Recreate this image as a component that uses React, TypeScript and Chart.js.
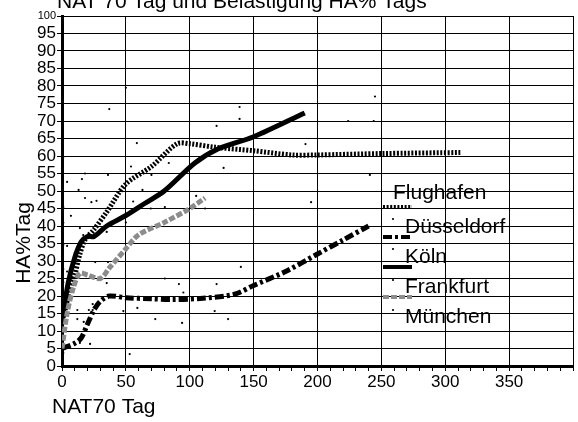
import React, { useEffect, useRef } from 'react';
import { Chart, registerables } from 'chart.js';
Chart.register(...registerables);

const FONT = '"Liberation Sans", Arial, Helvetica, sans-serif';

const titleText = 'NAT 70 Tag und Belastigung HA% Tags';
const xTitle = 'NAT70 Tag';
const yTitle = 'HA%Tag';

const seriesNames = ['Flughafen', 'Düsseldorf', 'Köln', 'Frankfurt', 'München'];

const flughafenX = [0, 5, 10, 14, 18, 25, 35, 50, 70, 90, 100, 120, 150, 180, 200, 250, 313];
const flughafenY = [12, 20, 26, 32, 36, 39, 44, 52, 57, 63.5, 63.5, 62.5, 61.5, 60.3, 60.3, 60.7, 61];

const duesseldorfX = [0, 10, 15, 20, 25, 30, 37, 50, 70, 85, 108, 135, 150, 175, 200, 220, 240];
const duesseldorfY = [5, 6.5, 8, 12, 16, 18.5, 20, 19.5, 19.2, 19, 19.3, 20.5, 23, 27, 32, 36, 40];

const koelnX = [0, 5, 10, 15, 20, 25, 35, 50, 65, 80, 104, 122, 150, 190];
const koelnY = [13, 24, 31, 35.5, 37, 37, 40, 43, 46.5, 50, 58, 62, 65.5, 72.3];

const frankfurtX = [0, 4, 9, 14, 20, 30, 37, 50, 60, 80, 100, 112];
const frankfurtY = [5, 15, 22.5, 26.5, 26, 25, 28, 33.5, 37.5, 41, 45, 48];

const dotsX = [37, 58.6, 54, 83.6, 70, 1, 4, 15.6, 18, 36, 13, 18, 23, 27, 1, 7, 63, 55.7, 69.5, 80.5, 1, 14, 16.6, 105, 112, 50, 35, 121, 139, 139, 126.5, 1, 4, 190.6, 224, 244, 241, 195, 245, 50, 10, 1, 4, 1, 26, 36, 24, 21, 24, 12, 12, 17, 14, 22, 53, 35, 48, 59, 73, 80.5, 91.5, 95, 94, 119.5, 121, 130, 140, 1];
const dotsY = [73.4, 63.7, 57, 58, 54.6, 59.7, 52.6, 53.4, 55, 54.6, 50.3, 48, 46.8, 47.2, 45.4, 42.9, 50.3, 47, 45, 45.4, 40.9, 39.4, 37.4, 48.6, 45, 41, 38.3, 68.6, 74, 70.6, 56.6, 34.6, 34.3, 63.4, 70, 70, 54.6, 46.8, 77, 79.5, 32.3, 27.7, 27, 24, 29.7, 29.7, 17.7, 16, 16, 16, 13.4, 12.6, 6.6, 6.3, 3.4, 23.7, 15.7, 16.6, 13.4, 25, 23.4, 21, 12.3, 15.7, 23.4, 13.4, 28.3, 3.7];

const xMin = 0;
const xMax = 400;
const xStep = 10;
const xLabelStep = 50;
const yMin = 0;
const yMax = 100;
const yStep = 5;

const GRAY = '#8c8c8c';

const zip = (xs: number[], ys: number[]) => xs.map((x, i) => ({ x, y: ys[i] }));

const lineStyles = [
  { color: '#000', dash: [2, 1.6], width: 5 },
  { color: '#000', dash: [9, 3, 3, 3], width: 5 },
  { color: '#000', dash: [] as number[], width: 5 },
  { color: GRAY, dash: [6, 2], width: 5 },
];

const decorPlugin = {
  id: 'decor',
  afterDraw(chart: any) {
    const ctx = chart.ctx as CanvasRenderingContext2D;
    ctx.save();
    ctx.fillStyle = '#000';
    ctx.font = `21px ${FONT}`;
    ctx.textBaseline = 'alphabetic';
    ctx.textAlign = 'left';
    ctx.fillText(titleText, 57, 7.5);
    ctx.fillText(xTitle, 52, 413);
    ctx.save();
    ctx.translate(30, 243);
    ctx.rotate(-Math.PI / 2);
    ctx.textAlign = 'center';
    ctx.fillText(yTitle, 0, 0);
    ctx.restore();

    const entries = [
      { name: seriesNames[0], tx: 393, ty: 193, dot: false, dy: 0, ly: 207, style: lineStyles[0] },
      { name: seriesNames[1], tx: 405, ty: 227, dot: true, dy: 219, ly: 237, style: lineStyles[1] },
      { name: seriesNames[2], tx: 405, ty: 257, dot: true, dy: 249, ly: 267, style: lineStyles[2] },
      { name: seriesNames[3], tx: 405, ty: 287, dot: true, dy: 280, ly: 297, style: lineStyles[3] },
      { name: seriesNames[4], tx: 405, ty: 317, dot: true, dy: 310, ly: -1, style: null as any },
    ];
    ctx.textBaseline = 'middle';
    ctx.textAlign = 'left';
    ctx.font = `21px ${FONT}`;
    for (const e of entries) {
      ctx.fillStyle = '#000';
      ctx.fillText(e.name, e.tx, e.ty);
      if (e.dot) {
        ctx.beginPath();
        ctx.arc(393, e.dy, 1.1, 0, Math.PI * 2);
        ctx.fill();
      }
      if (e.style && e.ly > 0) {
        ctx.beginPath();
        ctx.strokeStyle = e.style.color;
        ctx.lineWidth = 4;
        ctx.lineCap = 'butt';
        ctx.setLineDash(e.style.dash);
        ctx.moveTo(383, e.ly);
        ctx.lineTo(412, e.ly);
        ctx.stroke();
        ctx.setLineDash([]);
      }
    }
    ctx.restore();
  },
};

export default function App() {
  const ref = useRef<HTMLCanvasElement>(null);
  useEffect(() => {
    document.body.style.margin = '0';
    const canvas = ref.current!;
    const lineData = [
      zip(flughafenX, flughafenY),
      zip(duesseldorfX, duesseldorfY),
      zip(koelnX, koelnY),
      zip(frankfurtX, frankfurtY),
    ];
    const datasets: any[] = [
      {
        type: 'scatter',
        label: seriesNames[4],
        data: zip(dotsX, dotsY),
        pointRadius: 1.1,
        pointBackgroundColor: '#000',
        pointBorderWidth: 0,
        showLine: false,
        order: 5,
      },
      ...lineData.map((d, i) => ({
        type: 'line',
        label: seriesNames[i],
        data: d,
        borderColor: lineStyles[i].color,
        borderWidth: lineStyles[i].width,
        borderDash: lineStyles[i].dash,
        borderCapStyle: 'butt',
        pointRadius: 0,
        tension: 0.3,
        fill: false,
        order: 4 - i,
      })),
    ];
    const chart = new Chart(canvas, {
      type: 'line',
      data: { datasets },
      options: {
        animation: false,
        responsive: false,
        devicePixelRatio: 1,
        layout: { padding: { top: 16, right: 5, left: 0, bottom: 0 } },
        plugins: { legend: { display: false }, tooltip: { enabled: false }, title: { display: false } },
        scales: {
          x: {
            type: 'linear',
            min: xMin,
            max: xMax,
            afterFit: (s: any) => { s.height = 56; },
            ticks: {
              stepSize: xStep,
              autoSkip: false,
              maxRotation: 0,
              padding: 1,
              color: '#000',
              font: { family: FONT, size: 17 },
              callback: (v: any) => (v % xLabelStep === 0 && v < xMax ? String(v) : ''),
            },
            grid: {
              color: (c: any) => (c.tick && c.tick.value % xLabelStep === 0 ? '#000' : 'rgba(0,0,0,0)'),
              tickColor: '#000',
              tickLength: 5,
              lineWidth: 1,
            },
            border: { color: '#000', width: 3 },
          },
          y: {
            type: 'linear',
            min: yMin,
            max: yMax,
            afterFit: (s: any) => { s.width = 62; },
            ticks: {
              stepSize: yStep,
              autoSkip: false,
              padding: 1,
              color: '#000',
              font: (c: any) => ({ family: FONT, size: c.tick && c.tick.value === 100 ? 11 : 17 }),
            },
            grid: { color: '#000', tickColor: '#000', tickLength: 5, lineWidth: 1 },
            border: { color: '#000', width: 3 },
          },
        },
      },
      plugins: [decorPlugin],
    } as any);
    return () => chart.destroy();
  }, []);
  return <canvas ref={ref} width={578} height={422} style={{ display: 'block' }} />;
}
